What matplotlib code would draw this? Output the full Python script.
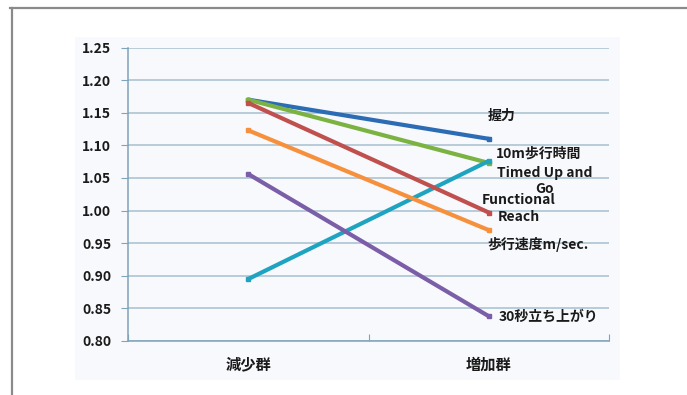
import matplotlib
matplotlib.use("Agg")
import matplotlib.pyplot as plt
import matplotlib.patches as patches
import matplotlib.lines as mlines

plt.rcParams['font.family'] = ['Noto Sans CJK JP', 'DejaVu Sans']
plt.rcParams['font.weight'] = 'bold'

# data
categories = ['減少群', '増加群']
series_names = ['握力', '10m歩行時間', 'Timed Up and\nGo', 'Functional\nReach', '歩行速度m/sec.', '30秒立ち上がり']
before = [1.170, 1.170, 0.895, 1.165, 1.123, 1.056]
after = [1.110, 1.073, 1.076, 0.997, 0.970, 0.838]
colors = ['#2b6cb5', '#7bb342', '#1ea4c0', '#c0504d', '#f7903c', '#7b5ea8']
yticks = [0.80, 0.85, 0.90, 0.95, 1.00, 1.05, 1.10, 1.15, 1.20, 1.25]

# label placement (pixel offsets from right end point) and alignment
label_offsets = [(-1, 23), (7, 9), (56, -20), (30, 4), (-1, -14), (10, -1)]
label_align = ['left', 'left', 'center', 'center', 'left', 'left']

W, H = 687, 395
fig = plt.figure(figsize=(W / 100, H / 100), dpi=100)
fig.patch.set_facecolor('white')

# outer frame and light panel
fig.add_artist(mlines.Line2D([10 / W, 1], [1 - 7.5 / H, 1 - 7.5 / H], color='#8a8a8a', lw=1.6))
fig.add_artist(mlines.Line2D([12.5 / W, 12.5 / W], [0, 1 - 7.5 / H], color='#8a8a8a', lw=1.6))
fig.add_artist(patches.Rectangle((75 / W, 1 - 380 / H), 545 / W, 343 / H, zorder=-10,
                                 transform=fig.transFigure, facecolor='#f8f9fc', edgecolor='none'))

ax = fig.add_axes([128 / W, 1 - 341 / H, (609 - 128) / W, (341 - 47.5) / H])
ax.set_facecolor('none')

x = list(range(len(categories)))
for i, name in enumerate(series_names):
    ax.plot(x, [before[i], after[i]], color=colors[i], lw=3.0, marker='s', ms=3.5,
            solid_capstyle='round', zorder=3)
    ax.annotate(name, (x[1], after[i]), xytext=label_offsets[i], textcoords='offset pixels',
                ha=label_align[i], va='center', fontsize=10, fontweight='bold',
                color='#1a1a1a', linespacing=1.2, zorder=4)

ax.set_xlim(-0.5, 1.5)
ax.set_ylim(0.80, 1.25)
ax.set_yticks(yticks)
ax.set_yticklabels([f'{v:.2f}' for v in yticks])
ax.grid(axis='y', color='#a6bfcf', lw=1.1)
ax.set_axisbelow(True)

ax.set_xticks([-0.5, 0.5, 1.5])
ax.set_xticklabels(['', '', ''])
ax.set_xticks(x, minor=True)
ax.set_xticklabels(categories, minor=True)
ax.tick_params(axis='x', which='minor', length=0, pad=11, labelsize=11, labelcolor='#1a1a1a')
ax.tick_params(axis='x', which='major', length=5, direction='in', color='#7fa3b8')
ax.tick_params(axis='y', length=5, color='#7fa3b8', labelsize=10, labelcolor='#1a1a1a', pad=7)

for s in ['top', 'right']:
    ax.spines[s].set_visible(False)
for s in ['left', 'bottom']:
    ax.spines[s].set_color('#7fa3b8')
    ax.spines[s].set_linewidth(1.1)

fig.savefig('out.png', dpi=100)
